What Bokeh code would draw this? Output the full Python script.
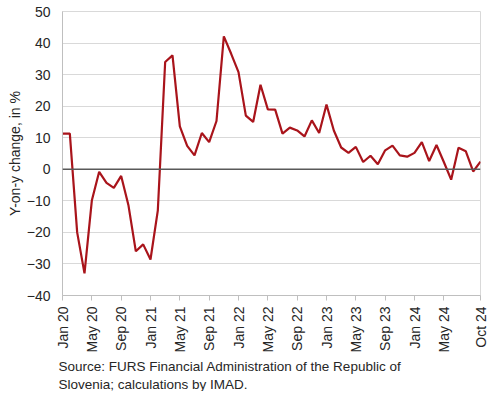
from bokeh.plotting import figure
from bokeh.models import Range1d, FixedTicker, Span, Title
from bokeh.embed import file_html
from bokeh.resources import INLINE

# Monthly data, Jan 2020 .. Oct 2024 (index 0..57)
month_index = list(range(58))
values = [11.3, 11.3, -20.0, -33.0, -9.9, -0.8, -4.3, -5.9, -2.1, -11.5,
          -26.0, -23.8, -28.6, -13.0, 34.0, 36.1, 13.6, 7.4, 4.4, 11.5,
          8.6, 15.3, 42.1, 36.6, 30.8, 17.0, 15.0, 26.8, 19.0, 18.9,
          11.3, 13.2, 12.3, 10.4, 15.5, 11.5, 20.5, 12.3, 6.9, 5.2,
          7.1, 2.3, 4.3, 1.6, 6.0, 7.5, 4.4, 4.0, 5.2, 8.6,
          2.6, 7.7, 2.3, -3.3, 6.8, 5.7, -0.7, 2.4]

tick_positions = [0, 4, 8, 12, 16, 20, 24, 28, 32, 36, 40, 44, 48, 52, 57]
tick_labels = ["Jan 20", "May 20", "Sep 20", "Jan 21", "May 21", "Sep 21",
               "Jan 22", "May 22", "Sep 22", "Jan 23", "May 23", "Sep 23",
               "Jan 24", "May 24", "Oct 24"]
y_ticks = [-40, -30, -20, -10, 0, 10, 20, 30, 40, 50]
y_title = "Y-on-y change, in %"
source_lines = ["Source: FURS Financial Administration of the Republic of",
                "Slovenia; calculations by IMAD."]

FONT = "Liberation Sans"
TXT = "#262626"

p = figure(frame_width=418, frame_height=284, output_backend="svg",
           toolbar_location=None, min_border_left=62, min_border_top=11,
           min_border_right=8, min_border_bottom=0,
           x_range=Range1d(0, 57), y_range=Range1d(-40, 50))
p.background_fill_color = "white"
p.border_fill_color = "white"
p.outline_line_color = "#d9d9d9"

p.line(month_index, values, line_color="#a9141b", line_width=2.2)

p.add_layout(Span(location=0, dimension="width", line_color="#595959", line_width=1.5))

# x axis
xa = p.xaxis[0]
xa.ticker = FixedTicker(ticks=tick_positions)
xa.major_label_overrides = {t: l for t, l in zip(tick_positions, tick_labels)}
xa.major_label_orientation = 3.14159265 / 2
xa.major_label_text_font = FONT
xa.major_label_text_font_size = "14px"
xa.major_label_text_color = TXT
xa.axis_line_color = "#bfbfbf"
xa.major_tick_line_color = "#bfbfbf"
xa.major_tick_out = 5
xa.major_tick_in = 0
xa.minor_tick_line_color = None
xa.major_label_standoff = 6

# y axis
ya = p.yaxis[0]
ya.ticker = FixedTicker(ticks=y_ticks)
ya.major_label_text_font = FONT
ya.major_label_text_font_size = "14px"
ya.major_label_text_color = TXT
ya.axis_line_color = "#bfbfbf"
ya.major_tick_line_color = None
ya.minor_tick_line_color = None
ya.major_tick_out = 0
ya.major_tick_in = 0
ya.major_label_standoff = 12
ya.axis_label = y_title
ya.axis_label_text_font = FONT
ya.axis_label_text_font_size = "14px"
ya.axis_label_text_font_style = "normal"
ya.axis_label_text_color = TXT
ya.axis_label_standoff = 1

p.xgrid.grid_line_color = None
p.ygrid.ticker = FixedTicker(ticks=y_ticks)
p.ygrid.grid_line_color = "#d9d9d9"
p.ygrid.grid_line_width = 1

for i, line in enumerate(source_lines):
    t = Title(text=line, align="left", text_font=FONT, text_font_size="13.5px",
              text_font_style="normal", text_color=TXT,
              standoff=(2 if i == 0 else 0), offset=-4)
    p.add_layout(t, "below")

open("out.html", "w").write(file_html(p, INLINE))
